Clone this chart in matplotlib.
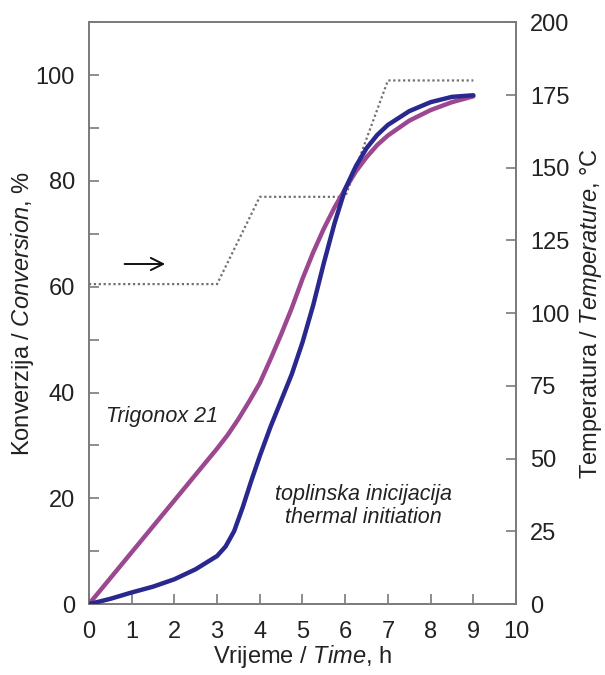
"""
 Conversion vs time, with the temperature programme on a second axis
"""
import matplotlib
matplotlib.use('Agg')
import matplotlib.pyplot as plt
from matplotlib.ticker import MultipleLocator

plt.rcParams['font.family'] = ['Liberation Sans', 'DejaVu Sans']
plt.rcParams['mathtext.fontset'] = 'custom'
plt.rcParams['mathtext.it'] = 'Liberation Sans:italic'
plt.rcParams['mathtext.rm'] = 'Liberation Sans'

# Trigonox 21 run
time_trig = [0, 0.5, 1, 1.5, 2, 2.5, 3, 3.25, 3.5, 3.75, 4, 4.25, 4.5, 4.75,
             5, 5.25, 5.5, 5.75, 6, 6.25, 6.5, 6.75, 7, 7.5, 8, 8.5, 9]
conv_trig = [0, 4.9, 9.8, 14.7, 19.6, 24.5, 29.4, 32, 35, 38.3, 41.8, 46.3, 51, 56,
             61.5, 66.5, 71, 75, 78.5, 81.8, 84.5, 86.8, 88.6, 91.4, 93.4, 94.9, 96]

# thermal initiation run
time_therm = [0, 0.5, 1, 1.5, 2, 2.5, 3, 3.2, 3.4, 3.6, 3.8, 4, 4.25, 4.5, 4.75,
              5, 5.25, 5.5, 5.75, 6, 6.25, 6.5, 6.75, 7, 7.5, 8, 8.5, 9]
conv_therm = [0, 1.0, 2.2, 3.3, 4.7, 6.6, 9.1, 10.9, 13.8, 18.3, 23.3, 28, 33.5, 38.5, 43.5,
              49.5, 56.5, 64.5, 72, 78.5, 82.8, 86.2, 88.7, 90.6, 93.2, 94.9, 95.9, 96.2]

# temperature programme
time_temp = [0, 3, 4, 6, 7, 9]
temp = [110, 110, 140, 140, 180, 180]

PURPLE = '#9c4890'
NAVY = '#29288e'
GREY = '#7a7a7a'
TXT = '#222222'

fig = plt.figure(figsize=(6.05, 6.75), dpi=100)
ax = fig.add_axes([0.147, 0.105, 0.706, 0.862])
ax2 = ax.twinx()

ax2.plot(time_temp, temp, color='#707070', ls=(0, (1, 1.2)), lw=1.6)
ax.plot(time_trig, conv_trig, color=PURPLE, lw=3.2, solid_capstyle='round',
        solid_joinstyle='round', zorder=3)
ax.plot(time_therm, conv_therm, color=NAVY, lw=3.2, solid_capstyle='round',
        solid_joinstyle='round', zorder=4)

ax.set_zorder(ax2.get_zorder() + 1)
ax.patch.set_visible(False)

ax.set_xlim(0, 10)
ax.set_ylim(0, 110)
ax2.set_ylim(0, 200)
ax.xaxis.set_major_locator(MultipleLocator(1))
ax.yaxis.set_major_locator(MultipleLocator(20))
ax.yaxis.set_minor_locator(MultipleLocator(10))
ax2.yaxis.set_major_locator(MultipleLocator(25))

for a in (ax, ax2):
    for sp in a.spines.values():
        sp.set_color(GREY)
        sp.set_linewidth(1.2)
    a.tick_params(which='both', direction='in', color=GREY, width=1.2,
                  length=7, labelsize=17, labelcolor=TXT, pad=10)
ax.tick_params(axis='x', pad=12)

ax.set_xlabel(r'Vrijeme / $\mathit{Time}$, h', fontsize=17, color=TXT, labelpad=0)
ax.set_ylabel(r'Konverzija / $\mathit{Conversion}$, %', fontsize=17, color=TXT, labelpad=0)
ax2.set_ylabel(r'Temperatura / $\mathit{Temperature}$, °C', fontsize=17, color=TXT, labelpad=6)

ax.annotate('', xy=(1.85, 64.3), xytext=(0.77, 64.3),
            arrowprops=dict(arrowstyle='->', color='#111111', lw=1.4,
                            mutation_scale=22))

ax.text(1.71, 35.5, 'Trigonox 21', fontsize=15.5, style='italic', color=TXT,
        ha='center', va='center')
ax.text(6.42, 20.7, 'toplinska inicijacija', fontsize=15.5, style='italic',
        color=TXT, ha='center', va='center')
ax.text(6.42, 16.4, 'thermal initiation', fontsize=15.5, style='italic',
        color=TXT, ha='center', va='center')

fig.savefig('out.png', dpi=100)
